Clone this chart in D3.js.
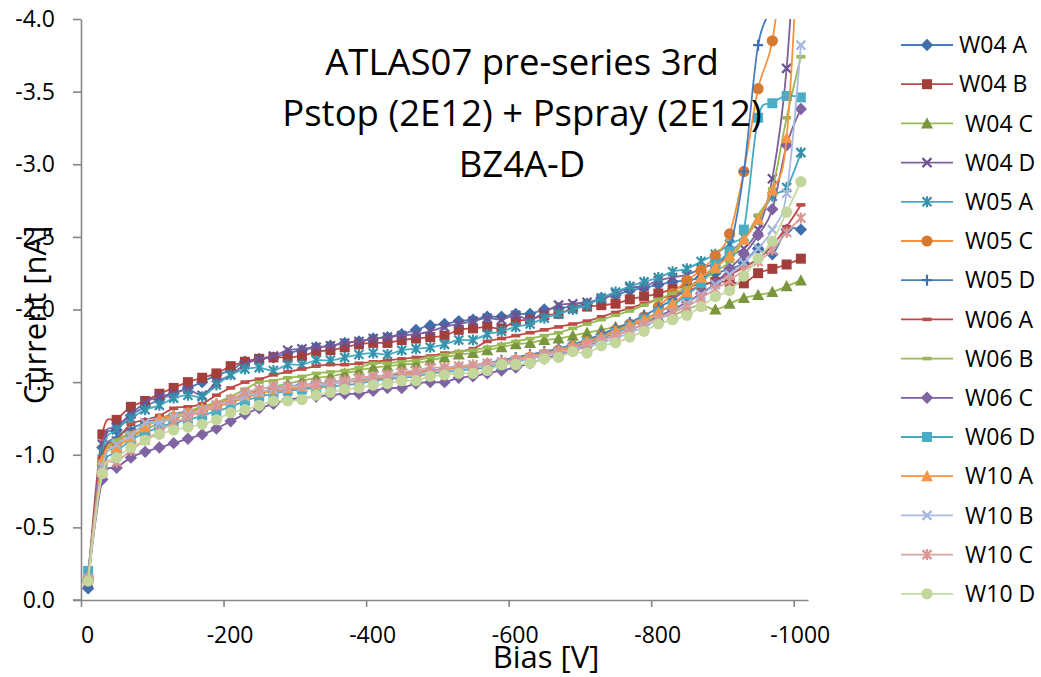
<!DOCTYPE html>
<html><head><meta charset="utf-8">
<script src="https://cdn.jsdelivr.net/npm/d3@7"></script>
<style>body{margin:0;background:#fff;} text{font-family:"Open Sans",sans-serif;fill:#000;}</style>
</head><body><svg id="c" width="1041" height="677"></svg>
<script>
// ---- data ----
const biasV = [-10,-30,-50,-70,-90,-110,-130,-150,-170,-190,-210,-230,-250,-270,-290,-310,-330,-350,-370,-390,-410,-430,-450,-470,-490,-510,-530,-550,-570,-590,-610,-630,-650,-670,-690,-710,-730,-750,-770,-790,-810,-830,-850,-870,-890,-910,-930,-950,-970,-990,-1010];
const seriesNames = ["W04 A","W04 B","W04 C","W04 D","W05 A","W05 C","W05 D","W06 A","W06 B","W06 C","W06 D","W10 A","W10 B","W10 C","W10 D"];
const W04A = [-0.08,-1.05,-1.17,-1.27,-1.33,-1.38,-1.42,-1.46,-1.50,-1.55,-1.58,-1.64,-1.66,-1.67,-1.70,-1.72,-1.74,-1.75,-1.77,-1.78,-1.80,-1.81,-1.83,-1.86,-1.89,-1.90,-1.92,-1.93,-1.95,-1.95,-1.97,-1.97,-2.00,-2.01,-2.02,-2.04,-2.08,-2.10,-2.13,-2.15,-2.17,-2.19,-2.20,-2.22,-2.25,-2.28,-2.32,-2.42,-2.38,-2.55,-2.55];
const W04B = [-0.15,-1.14,-1.24,-1.33,-1.37,-1.42,-1.46,-1.50,-1.53,-1.56,-1.61,-1.64,-1.66,-1.67,-1.67,-1.68,-1.71,-1.72,-1.74,-1.76,-1.77,-1.77,-1.79,-1.80,-1.81,-1.82,-1.86,-1.87,-1.88,-1.87,-1.92,-1.93,-1.96,-1.97,-2.01,-2.02,-2.03,-2.04,-2.07,-2.09,-2.11,-2.14,-2.16,-2.17,-2.19,-2.19,-2.18,-2.25,-2.28,-2.31,-2.35];
const W04C = [-0.16,-0.93,-1.05,-1.12,-1.17,-1.22,-1.25,-1.28,-1.31,-1.34,-1.38,-1.42,-1.45,-1.47,-1.49,-1.51,-1.53,-1.54,-1.56,-1.58,-1.60,-1.61,-1.62,-1.63,-1.65,-1.67,-1.69,-1.70,-1.72,-1.74,-1.76,-1.77,-1.79,-1.80,-1.82,-1.84,-1.86,-1.88,-1.90,-1.92,-1.95,-1.96,-2.00,-2.03,-2.00,-2.04,-2.08,-2.10,-2.12,-2.16,-2.20];
const W04D = [-0.12,-1.07,-1.19,-1.28,-1.36,-1.40,-1.42,-1.45,-1.41,-1.50,-1.55,-1.62,-1.66,-1.68,-1.72,-1.73,-1.74,-1.75,-1.77,-1.78,-1.80,-1.81,-1.82,-1.83,-1.85,-1.88,-1.90,-1.92,-1.94,-1.93,-1.96,-1.93,-1.98,-2.03,-2.04,-2.05,-2.07,-2.11,-2.15,-2.16,-2.20,-2.22,-2.24,-2.28,-2.32,-2.37,-2.42,-2.55,-2.90,-3.66,-5.20];
const W05A = [-0.14,-1.02,-1.17,-1.25,-1.31,-1.34,-1.39,-1.41,-1.40,-1.48,-1.55,-1.59,-1.60,-1.58,-1.62,-1.62,-1.65,-1.65,-1.67,-1.69,-1.70,-1.69,-1.72,-1.73,-1.74,-1.76,-1.79,-1.79,-1.83,-1.85,-1.88,-1.90,-1.94,-1.97,-2.00,-2.03,-2.08,-2.12,-2.16,-2.19,-2.22,-2.26,-2.28,-2.33,-2.38,-2.45,-2.50,-2.62,-2.78,-2.84,-3.08];
const W05C = [-0.15,-0.95,-1.08,-1.15,-1.20,-1.23,-1.26,-1.28,-1.30,-1.33,-1.36,-1.39,-1.42,-1.44,-1.45,-1.46,-1.47,-1.49,-1.50,-1.51,-1.52,-1.53,-1.55,-1.56,-1.57,-1.58,-1.59,-1.60,-1.62,-1.63,-1.65,-1.67,-1.69,-1.72,-1.75,-1.78,-1.82,-1.86,-1.90,-1.95,-2.02,-2.11,-2.20,-2.27,-2.37,-2.52,-2.95,-3.52,-3.85,-4.60,-5.20];
const W05D = [-0.14,-0.98,-1.12,-1.18,-1.22,-1.25,-1.28,-1.30,-1.32,-1.35,-1.38,-1.41,-1.43,-1.45,-1.47,-1.48,-1.49,-1.50,-1.51,-1.52,-1.53,-1.54,-1.56,-1.57,-1.58,-1.59,-1.60,-1.61,-1.63,-1.65,-1.67,-1.69,-1.71,-1.73,-1.76,-1.79,-1.83,-1.87,-1.91,-1.96,-2.01,-2.07,-2.14,-2.22,-2.30,-2.42,-2.95,-3.82,-4.10,-4.50,-4.90];
const W06A = [-0.17,-0.98,-1.10,-1.21,-1.24,-1.27,-1.32,-1.33,-1.35,-1.41,-1.46,-1.50,-1.52,-1.55,-1.57,-1.59,-1.61,-1.62,-1.62,-1.63,-1.64,-1.65,-1.66,-1.67,-1.68,-1.70,-1.71,-1.73,-1.78,-1.80,-1.82,-1.84,-1.86,-1.88,-1.90,-1.92,-1.95,-1.98,-2.01,-2.04,-2.07,-2.10,-2.13,-2.16,-2.20,-2.24,-2.29,-2.35,-2.44,-2.57,-2.72];
const W06B = [-0.17,-0.95,-1.10,-1.15,-1.20,-1.24,-1.27,-1.30,-1.33,-1.36,-1.40,-1.45,-1.50,-1.51,-1.53,-1.54,-1.56,-1.57,-1.58,-1.60,-1.63,-1.63,-1.64,-1.65,-1.67,-1.69,-1.71,-1.72,-1.74,-1.76,-1.78,-1.80,-1.82,-1.84,-1.87,-1.90,-1.93,-1.96,-1.99,-2.03,-2.07,-2.11,-2.15,-2.20,-2.26,-2.33,-2.48,-2.65,-2.83,-3.32,-3.74];
const W06C = [-0.13,-0.83,-0.91,-0.98,-1.02,-1.05,-1.08,-1.11,-1.14,-1.18,-1.23,-1.28,-1.32,-1.35,-1.38,-1.39,-1.40,-1.41,-1.42,-1.42,-1.44,-1.46,-1.46,-1.49,-1.50,-1.50,-1.53,-1.54,-1.56,-1.58,-1.60,-1.63,-1.66,-1.69,-1.72,-1.75,-1.79,-1.82,-1.86,-1.90,-1.95,-2.00,-2.05,-2.11,-2.18,-2.28,-2.38,-2.51,-2.69,-3.13,-3.38];
const W06D = [-0.20,-0.90,-1.02,-1.10,-1.15,-1.19,-1.22,-1.24,-1.27,-1.30,-1.33,-1.37,-1.40,-1.42,-1.44,-1.45,-1.46,-1.47,-1.48,-1.49,-1.51,-1.52,-1.53,-1.54,-1.56,-1.57,-1.58,-1.59,-1.60,-1.62,-1.64,-1.66,-1.69,-1.71,-1.74,-1.77,-1.80,-1.84,-1.88,-1.93,-1.98,-2.03,-2.10,-2.18,-2.31,-2.40,-2.55,-3.32,-3.42,-3.47,-3.46];
const W10A = [-0.16,-0.96,-1.05,-1.12,-1.19,-1.25,-1.27,-1.29,-1.32,-1.35,-1.38,-1.41,-1.43,-1.45,-1.46,-1.47,-1.48,-1.49,-1.51,-1.52,-1.53,-1.54,-1.55,-1.57,-1.58,-1.59,-1.60,-1.61,-1.62,-1.64,-1.66,-1.68,-1.70,-1.72,-1.75,-1.78,-1.81,-1.85,-1.89,-1.93,-1.98,-2.04,-2.12,-2.22,-2.29,-2.37,-2.48,-2.62,-2.82,-3.18,-4.90];
const W10B = [-0.15,-0.92,-1.07,-1.13,-1.22,-1.22,-1.26,-1.28,-1.31,-1.34,-1.37,-1.40,-1.43,-1.45,-1.46,-1.47,-1.48,-1.49,-1.50,-1.52,-1.53,-1.54,-1.54,-1.55,-1.57,-1.58,-1.59,-1.60,-1.62,-1.63,-1.64,-1.66,-1.68,-1.70,-1.72,-1.74,-1.77,-1.80,-1.84,-1.88,-1.93,-1.98,-2.04,-2.10,-2.17,-2.24,-2.32,-2.42,-2.55,-2.80,-3.82];
const W10C = [-0.14,-0.88,-0.95,-1.03,-1.10,-1.16,-1.22,-1.26,-1.30,-1.34,-1.38,-1.43,-1.45,-1.47,-1.47,-1.48,-1.49,-1.50,-1.51,-1.53,-1.54,-1.55,-1.57,-1.58,-1.60,-1.60,-1.61,-1.62,-1.63,-1.64,-1.65,-1.67,-1.69,-1.71,-1.73,-1.76,-1.79,-1.82,-1.86,-1.90,-1.94,-1.98,-2.02,-2.08,-2.14,-2.20,-2.27,-2.33,-2.41,-2.53,-2.63];
const W10D = [-0.13,-0.87,-0.98,-1.05,-1.10,-1.14,-1.17,-1.19,-1.21,-1.24,-1.29,-1.31,-1.34,-1.37,-1.37,-1.38,-1.41,-1.43,-1.45,-1.46,-1.48,-1.49,-1.51,-1.51,-1.54,-1.55,-1.56,-1.56,-1.58,-1.62,-1.62,-1.63,-1.66,-1.67,-1.71,-1.70,-1.75,-1.77,-1.81,-1.85,-1.90,-1.93,-1.96,-2.02,-2.09,-2.13,-2.23,-2.35,-2.47,-2.67,-2.88];
const yTicks = [0,-0.5,-1.0,-1.5,-2.0,-2.5,-3.0,-3.5,-4.0];
const xTicks = [0,-200,-400,-600,-800,-1000];
const titleLines = ["ATLAS07 pre-series 3rd","Pstop (2E12) + Pspray (2E12)","BZ4A-D"];

const seriesValues = [W04A,W04B,W04C,W04D,W05A,W05C,W05D,W06A,W06B,W06C,W06D,W10A,W10B,W10C,W10D];

// ---- styles ----
const lineColors = ["#4A7EBB","#BE4B48","#98B954","#7D60A0","#46AAC5","#F69240","#4A7EBB","#BE4B48","#98B954","#7D60A0","#46AAC5","#F69240","#A9BCE0","#DBA3A1","#C6D9A0"];
const markFill   = ["#3F6FAA","#A33E3B","#7A963F","#6C5393","#3592AB","#D67A33","#3F72B0","#BE4B48","#98B954","#8064A2","#4BACC6","#F79646","#A5B8DC","#D99694","#C3D69B"];
const markType = ["diamond","square","triangle","x","star","circle","plus","dash","dash","diamond","square","triangle","x","star","circle"];

const svg = d3.select("#c");
const x = d3.scaleLinear().domain([0,-1020]).range([81,808]);
const y = d3.scaleLinear().domain([0,-4]).range([600,19]);

svg.append("defs").append("clipPath").attr("id","plot")
  .append("rect").attr("x",81).attr("y",19).attr("width",727).attr("height",581);

function drawMarker(g, type, cx, cy, fill){
  const t = g.append("g").attr("transform",`translate(${cx},${cy})`);
  if(type==="diamond") t.append("path").attr("d","M0,-6.2L6.2,0L0,6.2L-6.2,0Z").attr("fill",fill);
  else if(type==="square") t.append("rect").attr("x",-5).attr("y",-5).attr("width",10).attr("height",10).attr("fill",fill);
  else if(type==="triangle") t.append("path").attr("d","M0,-6.2L6,5L-6,5Z").attr("fill",fill);
  else if(type==="circle") t.append("circle").attr("r",5.6).attr("fill",fill);
  else if(type==="dash") t.append("rect").attr("x",-4.5).attr("y",-1.8).attr("width",9).attr("height",3.6).attr("fill",fill);
  else {
    let d = "";
    if(type==="x"||type==="star") d += "M-4.5,-4.5L4.5,4.5M-4.5,4.5L4.5,-4.5";
    if(type==="star") d += "M0,-5.5L0,5.5";
    if(type==="plus") d += "M-5,0L5,0M0,-5.5L0,5.5";
    t.append("path").attr("d",d).attr("stroke",fill).attr("stroke-width",2.2).attr("fill","none");
  }
}

// ---- series ----
const plot = svg.append("g").attr("clip-path","url(#plot)");
const line = d3.line().x((d,i)=>x(biasV[i])).y(d=>y(d)).curve(d3.curveCardinal.tension(0));
seriesValues.forEach((vals,k)=>{
  const g = plot.append("g");
  g.append("path").attr("d",line(vals)).attr("fill","none").attr("stroke",lineColors[k]).attr("stroke-width",1.8);
  vals.forEach((v,i)=>{ if(v>=-4.1) drawMarker(g, markType[k], x(biasV[i]), y(v), markFill[k]); });
});

// ---- axes ----
const axisColor = "#868686";
const yAxis = svg.append("g").attr("transform","translate(81,0)")
  .call(d3.axisLeft(y).tickValues(yTicks).tickFormat(d=>d.toFixed(1)).tickSize(8).tickSizeOuter(0).tickPadding(18));
const xAxis = svg.append("g").attr("transform","translate(0,600)")
  .call(d3.axisBottom(x).tickValues(xTicks).tickFormat(d=>String(d)).tickSize(7).tickSizeOuter(0).tickPadding(20));
[yAxis,xAxis].forEach(a=>{
  a.select(".domain").attr("stroke",axisColor).attr("stroke-width",1.6);
  a.selectAll(".tick line").attr("stroke",axisColor).attr("stroke-width",1.6);
  a.selectAll("text").attr("font-size",23).attr("font-family","Open Sans").attr("fill","#000");
});
xAxis.selectAll("text").attr("dx",6);
svg.append("line").attr("x1",73).attr("x2",81).attr("y1",600).attr("y2",600).attr("stroke",axisColor).attr("stroke-width",1.6);

// ---- titles ----
svg.append("text").attr("x",546).attr("y",668).attr("text-anchor","middle").attr("font-size",31).text("Bias [V]");
svg.append("text").attr("transform","translate(46,315) rotate(-90)").attr("text-anchor","middle").attr("font-size",31).text("Current [nA]");
titleLines.forEach((t,i)=>{
  svg.append("text").attr("x",522).attr("y",75+i*51).attr("text-anchor","middle").attr("font-size",36.5).text(t);
});

// ---- legend ----
seriesNames.forEach((n,k)=>{
  const ly = 45 + k*39.2;
  const g = svg.append("g");
  g.append("line").attr("x1",901).attr("x2",953).attr("y1",ly).attr("y2",ly).attr("stroke",lineColors[k]).attr("stroke-width",1.8);
  drawMarker(g, markType[k], 927, ly, markFill[k]);
  g.append("text").attr("x", k<2?959:965).attr("y",ly+8.2).attr("font-size",23).text(n);
});
</script></body></html>
